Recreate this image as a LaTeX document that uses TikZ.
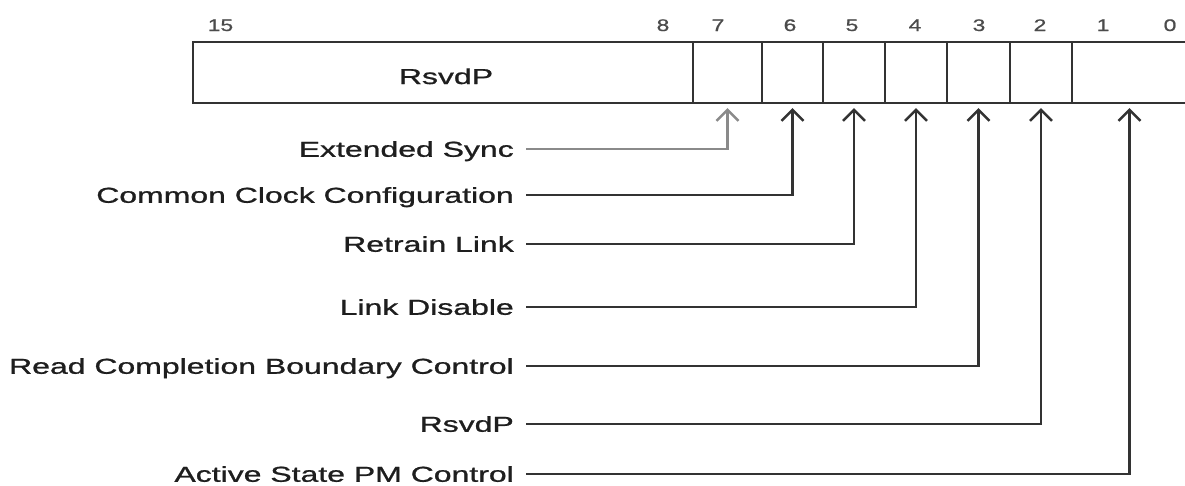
\documentclass[tikz,border=0pt]{standalone}
\usepackage{fontspec}
\setmainfont{Liberation Sans}
\newfontfamily\lblfont[FakeBold=0.8]{Liberation Sans}
\usetikzlibrary{arrows.meta}
\definecolor{ink}{HTML}{1E1E1E}
\definecolor{wire}{HTML}{333333}
\definecolor{lightwire}{HTML}{8A8A8A}
\newcommand{\lbltext}[1]{\scalebox{1.48}[1]{\lblfont\fontsize{21.6}{26}\selectfont #1}}
\newcommand{\bittext}[1]{\scalebox{1.36}[1]{\lblfont\fontsize{16.8}{20}\selectfont #1}}
\tikzset{
  cell/.style={draw=wire, line width=2.4pt, minimum height=61pt, inner sep=0pt, anchor=center},
  fieldlabel/.style={anchor=east, inner xsep=12pt, inner ysep=0pt, text height=15.5pt, text depth=0pt, text=ink},
  bitnum/.style={anchor=base, inner sep=0pt, text=ink!80},
  conn/.style={draw=wire, line width=2.4pt, -{Straight Barb[length=11pt,width=22pt,line width=2.4pt]}, shorten >=4pt},
}
\begin{document}
\begin{tikzpicture}[x=1pt,y=-1pt]
\useasboundingbox[fill=white] (0,0) rectangle (1185,485);
% register cells
\node[cell, minimum width=500pt] (rsvd) at (443,72.5) {};
\node[cell, minimum width=69pt] (c7) at (727.5,72.5) {};
\node[cell, minimum width=61pt] (c6) at (792.5,72.5) {};
\node[cell, minimum width=62pt] (c5) at (854,72.5) {};
\node[cell, minimum width=62pt] (c4) at (916,72.5) {};
\node[cell, minimum width=63pt] (c3) at (978.5,72.5) {};
\node[cell, minimum width=62pt] (c2) at (1041,72.5) {};
\node[cell, minimum width=115pt] (c1) at (1129.5,72.5) {};
\node[anchor=base, inner sep=0pt, text=ink] (rsvdtxt) at (446,84) {\lbltext{RsvdP}};
% bit numbers
\node[bitnum] (n15) at (220.5,31) {\bittext{15}};
\node[bitnum] (n8) at (663,31) {\bittext{8}};
\node[bitnum] (n7) at (718,31) {\bittext{7}};
\node[bitnum] (n6) at (790,31) {\bittext{6}};
\node[bitnum] (n5) at (852,31) {\bittext{5}};
\node[bitnum] (n4) at (915,31) {\bittext{4}};
\node[bitnum] (n3) at (979,31) {\bittext{3}};
\node[bitnum] (n2) at (1040,31) {\bittext{2}};
\node[bitnum] (n1) at (1103,31) {\bittext{1}};
\node[bitnum] (n0) at (1170,31) {\bittext{0}};
% field labels
\node[fieldlabel] (l7) at (526,149) {\lbltext{Extended Sync}};
\node[fieldlabel] (l6) at (526,195) {\lbltext{Common Clock Configuration}};
\node[fieldlabel] (l5) at (526,244) {\lbltext{Retrain Link}};
\node[fieldlabel] (l4) at (526,307) {\lbltext{Link Disable}};
\node[fieldlabel] (l3) at (526,366) {\lbltext{Read Completion Boundary Control}};
\node[fieldlabel] (l2) at (526,424) {\lbltext{RsvdP}};
\node[fieldlabel] (l1) at (526,474) {\lbltext{Active State PM Control}};
% connectors
\draw[conn, draw=lightwire] (l7.east) -| (c7.south);
\draw[conn] (l6.east) -| (c6.south);
\draw[conn] (l5.east) -| (c5.south);
\draw[conn] (l4.east) -| (c4.south);
\draw[conn] (l3.east) -| (c3.south);
\draw[conn] (l2.east) -| (c2.south);
\draw[conn] (l1.east) -| (c1.south);
\end{tikzpicture}
\end{document}
